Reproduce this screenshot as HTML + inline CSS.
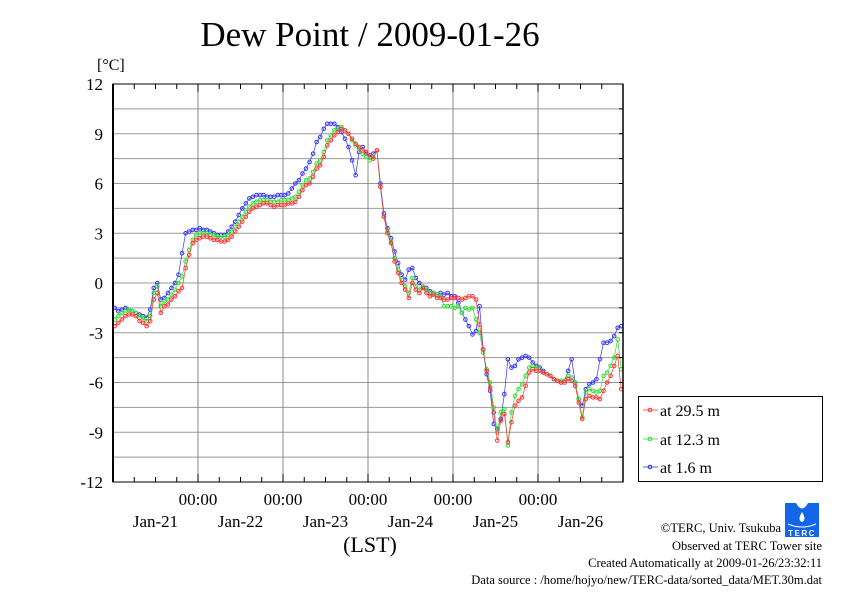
<!DOCTYPE html>
<html><head><meta charset="utf-8"><style>
html,body{margin:0;padding:0;background:#fff;}
body{width:842px;height:595px;overflow:hidden;font-family:"Liberation Serif",serif;}
</style></head><body>
<svg id="chart" width="842" height="595" viewBox="0 0 842 595" xmlns="http://www.w3.org/2000/svg" font-family="Liberation Serif, serif">
<rect width="842" height="595" fill="#fff"/>
<text x="370" y="46" font-size="35" text-anchor="middle">Dew Point / 2009-01-26</text>
<text x="97" y="70" font-size="16">[°C]</text>
<g id="grid"></g>
<g id="series"></g>
<g id="axes"></g>
<text x="370" y="552" font-size="22" text-anchor="middle">(LST)</text>
<g>
<rect x="638.5" y="396.5" width="184" height="85" fill="#fff" stroke="#000" stroke-width="1"/>
<g><line x1="643" y1="410" x2="658" y2="410" stroke="#f33" stroke-width="0.8"/><circle cx="650" cy="410" r="1.8" fill="none" stroke="#f33"/><text x="660" y="416" font-size="16">at 29.5 m</text></g>
<g><line x1="643" y1="439" x2="658" y2="439" stroke="#3d3" stroke-width="0.8"/><circle cx="650" cy="439" r="1.8" fill="none" stroke="#3d3"/><text x="660" y="445" font-size="16">at 12.3 m</text></g>
<g><line x1="643" y1="467" x2="658" y2="467" stroke="#33f" stroke-width="0.8"/><circle cx="650" cy="467" r="1.8" fill="none" stroke="#33f"/><text x="660" y="473" font-size="16">at 1.6 m</text></g>
</g>
<g>
<rect x="785" y="503" width="34" height="34" fill="#1565e8"/>
<path d="M796 503 Q802 514 808 503 Z" fill="#fff"/>
<path d="M802 512 Q797 520 802 522 Q807 520 802 512 Z" fill="#fff"/>
<path d="M788 524 Q802 530 816 524" stroke="#fff" fill="none" stroke-width="1"/>
<text x="802" y="536" font-size="8" fill="#fff" text-anchor="middle" font-family="Liberation Sans, sans-serif" font-weight="bold" letter-spacing="1.5">TERC</text>
</g>
<g font-size="12.5" text-anchor="end">
<text x="781" y="532">©TERC, Univ. Tsukuba</text>
<text x="822" y="550">Observed at TERC Tower site</text>
<text x="822" y="567">Created Automatically at 2009-01-26/23:32:11</text>
<text x="822" y="584">Data source : /home/hojyo/new/TERC-data/sorted_data/MET.30m.dat</text>
</g>
</svg>
<script>
const dayLabels = ["Jan-21","Jan-22","Jan-23","Jan-24","Jan-25","Jan-26"];
const yTicks = [12,9,6,3,0,-3,-6,-9,-12];
const seriesNames = ["at 1.6 m","at 12.3 m","at 29.5 m"];
const red295 = [
-2.6,-2.4,-2.2,-2.0,-1.9,-1.9,-2.0,-2.3,-2.4,-2.6,-2.3,-1.0,-0.6,-1.8,-1.4,-1.3,-1.0,-0.8,-0.5,-0.3,0.9,1.7,2.4,2.6,
2.7,2.8,2.8,2.7,2.6,2.6,2.5,2.5,2.6,2.8,3.1,3.4,3.7,4.0,4.3,4.5,4.6,4.7,4.8,4.8,4.7,4.6,4.7,4.7,
4.7,4.8,4.8,4.9,5.2,5.6,5.9,6.0,6.4,6.9,7.1,7.6,8.3,8.6,8.9,9.1,9.3,9.2,9.0,8.7,8.4,8.2,8.0,7.9,
7.7,7.5,8.0,5.8,4.0,3.0,2.4,1.3,0.6,0.0,-0.4,-0.9,0.0,-0.4,-0.6,-0.3,-0.6,-0.8,-0.7,-0.9,-0.9,-1.0,-1.0,-0.9,
-0.9,-0.9,-1.0,-0.9,-0.8,-0.8,-1.0,-2.5,-4.0,-5.3,-6.3,-7.8,-9.5,-8.3,-7.9,-9.6,-8.4,-7.4,-7.1,-6.9,-6.2,-5.4,-5.2,-5.3,
-5.3,-5.4,-5.5,-5.6,-5.8,-5.9,-6.0,-6.0,-5.8,-5.9,-6.2,-7.2,-8.2,-7.0,-6.8,-6.9,-6.9,-7.0,-6.5,-6.0,-5.6,-5.0,-4.4,-6.4];
const green123 = [
-2.2,-2.0,-1.8,-1.7,-1.6,-1.7,-1.8,-2.0,-2.1,-2.3,-2.0,-0.6,-0.2,-1.4,-1.1,-1.0,-0.7,-0.4,0.0,0.4,1.3,2.0,2.6,2.9,
3.0,3.0,3.0,2.9,2.9,2.8,2.8,2.8,2.9,3.1,3.4,3.7,4.0,4.3,4.6,4.8,4.9,5.0,5.0,5.0,4.9,4.9,4.9,5.0,
5.0,5.0,5.1,5.2,5.5,5.9,6.2,6.3,6.7,7.2,7.4,7.9,8.6,8.9,9.2,9.3,9.4,9.2,9.0,8.6,8.3,8.1,7.8,7.6,
7.4,7.6,8.0,5.8,4.0,3.1,2.5,1.5,0.8,0.2,-0.2,-0.6,0.3,-0.2,-0.4,-0.2,-0.4,-0.6,-0.6,-0.7,-0.8,-1.4,-1.4,-1.4,
-1.5,-1.4,-1.8,-1.5,-1.6,-1.5,-2.2,-3.0,-4.2,-5.2,-6.0,-7.5,-9.0,-7.8,-7.6,-9.8,-7.8,-6.8,-6.4,-6.1,-5.6,-5.1,-5.0,-5.1,
-5.2,-5.4,-5.5,-5.6,-5.8,-5.9,-5.9,-5.9,-5.6,-5.7,-6.0,-7.0,-8.1,-6.6,-6.4,-6.5,-6.6,-6.5,-5.6,-5.4,-5.0,-4.5,-3.4,-5.2];
const blue16 = [
-1.5,-1.7,-1.6,-1.5,-1.6,-1.7,-1.8,-1.9,-2.0,-2.1,-1.6,-0.3,0.0,-1.0,-0.9,-0.6,-0.3,0.0,0.5,1.8,3.0,3.1,3.2,3.2,
3.3,3.2,3.2,3.1,3.0,2.9,2.9,2.9,3.1,3.4,3.7,4.1,4.5,4.8,5.1,5.2,5.3,5.3,5.3,5.2,5.2,5.2,5.3,5.3,
5.3,5.4,5.7,6.0,6.2,6.6,6.9,7.3,7.8,8.5,8.8,9.3,9.6,9.6,9.6,9.4,9.1,8.7,8.2,7.4,6.5,7.9,8.2,7.8,
7.6,7.8,8.0,6.0,4.2,3.3,2.7,1.9,1.2,0.5,0.2,0.8,0.9,0.3,0.0,-0.3,-0.3,-0.5,-0.6,-0.7,-0.6,-0.7,-0.6,-0.8,
-0.8,-1.2,-1.8,-2.2,-2.6,-3.1,-2.9,-1.4,-4.0,-5.5,-6.5,-8.5,-8.8,-8.2,-6.7,-4.6,-5.1,-5.0,-4.6,-4.5,-4.4,-4.5,-4.8,-5.0,
-5.1,-5.3,-5.5,-5.6,-5.8,-5.9,-6.0,-5.9,-5.3,-4.6,-6.0,-7.0,-7.4,-6.4,-6.1,-6.0,-5.8,-4.6,-3.6,-3.6,-3.5,-3.2,-2.7,-2.6];

const NS="http://www.w3.org/2000/svg";
const X0=113, X1=623, Y0=84, Y1=482;
const xScale = h => X0 + (X1-X0)*h/(dayLabels.length*24);
const yScale = v => Y1 - (Y1-Y0)*(v-(-12))/24;
function mk(tag, parent, attrs){const e=document.createElementNS(NS,tag);for(const k in attrs)e.setAttribute(k,attrs[k]);parent.appendChild(e);return e;}
const grid=document.getElementById('grid'), axes=document.getElementById('axes'), ser=document.getElementById('series');
// horizontal grid every 1.5
for(let v=-10.5; v<12; v+=1.5){
  const l=mk('line',grid,{x1:X0,x2:X1,y1:yScale(v),y2:yScale(v),stroke:'#999','stroke-width':1});
  
  
}
// vertical grid at midnights
for(let d=1; d<dayLabels.length; d++){
  const x=xScale(d*24);
  const l=mk('line',grid,{x1:x,x2:x,y1:Y0,y2:Y1,stroke:'#888','stroke-width':1});
  
  
}
// series
const data=[[blue16,'#33f'],[green123,'#3d3'],[red295,'#f33']];
data.forEach((s,i)=>{
  const g=mk('g',ser,{});
  
  
  const pts=s[0].map((v,h)=>xScale(h+0.5).toFixed(1)+','+yScale(v).toFixed(1)).join(' ');
  mk('polyline',g,{points:pts,fill:'none',stroke:s[1],'stroke-width':0.7});
  s[0].forEach((v,h)=>{
    const c=mk('circle',g,{cx:xScale(h+0.5),cy:yScale(v),r:1.8,fill:'none',stroke:s[1],'stroke-width':1});
    
    
  });
});
// frame
mk('rect',axes,{x:X0,y:Y0,width:X1-X0,height:Y1-Y0,fill:'none',stroke:'#000','stroke-width':1});
mk('line',axes,{x1:X0,x2:X0,y1:Y0,y2:Y1,stroke:'#000','stroke-width':2});
mk('line',axes,{x1:X1,x2:X1,y1:Y0,y2:Y1,stroke:'#000','stroke-width':1.5});
// x ticks every 6h
for(let h=6; h<dayLabels.length*24; h+=6){
  const x=xScale(h), len=(h%24===0)?8:5;
  mk('line',axes,{x1:x,x2:x,y1:Y0,y2:Y0+len,stroke:'#000','stroke-width':1});
  mk('line',axes,{x1:x,x2:x,y1:Y1,y2:Y1-len,stroke:'#000','stroke-width':1});
}
// right ticks
for(let v=-10.5; v<12; v+=1.5){
  mk('line',axes,{x1:X1,x2:X1-4,y1:yScale(v),y2:yScale(v),stroke:'#000','stroke-width':1});
}
// y labels
yTicks.forEach(v=>{
  const t=mk('text',axes,{x:103,y:yScale(v)+6,'font-size':17,'text-anchor':'end'});
  t.textContent=String(v);
  
  
});
// x labels
dayLabels.forEach((d,i)=>{
  const t=mk('text',axes,{x:xScale(i*24+12),y:527,'font-size':17,'text-anchor':'middle'});
  t.textContent=d;
  
  
  if(i>0){
    const t2=mk('text',axes,{x:xScale(i*24),y:505,'font-size':17,'text-anchor':'middle'});
    t2.textContent='00:00';
    
    
  }
});
</script>
</body></html>
